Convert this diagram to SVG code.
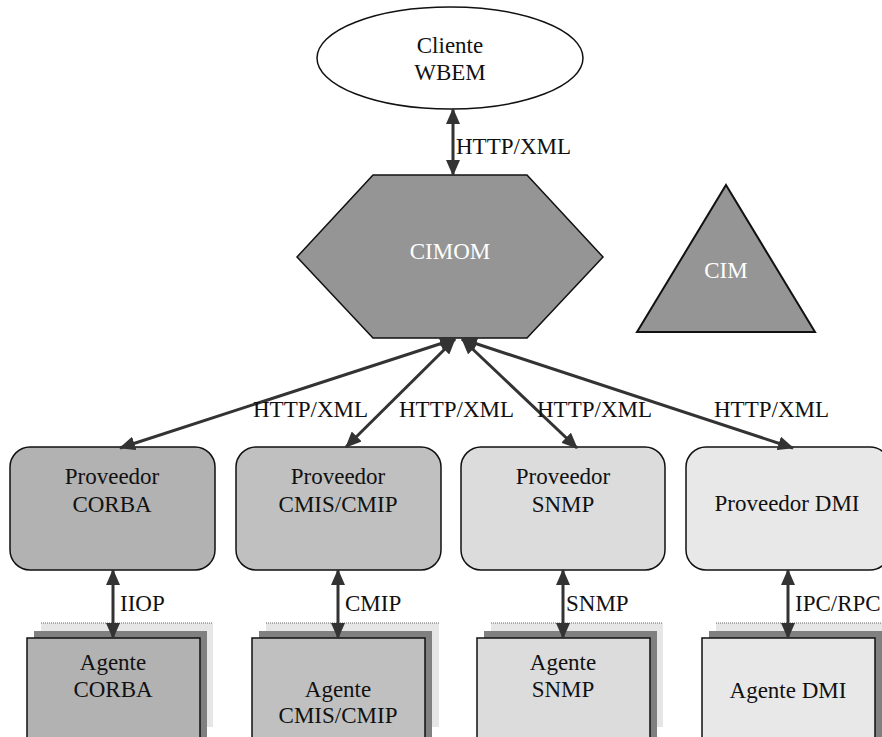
<svg xmlns="http://www.w3.org/2000/svg" width="882" height="737" viewBox="0 0 882 737">
  <style>
    text { font-size: 23px; fill: #111; }
    .mid { text-anchor: middle; }
    .light { fill: #ffffff; }
    .edge { stroke: #333; stroke-width: 3; fill: none; marker-start: url(#head); marker-end: url(#head); }
    .prov { stroke: #111; stroke-width: 1.5; }
    .front { stroke: #111; stroke-width: 1.5; }
    .shadow { fill: #808080; }
    .back { fill: #e6e6e6; }
    .dots { stroke: #666; stroke-width: 1; stroke-dasharray: 1 1; }
  </style>
  <defs>
    <marker id="head" markerUnits="userSpaceOnUse" markerWidth="16" markerHeight="14" refX="15" refY="7" orient="auto-start-reverse">
      <path d="M0,0 L16,7 L0,14 z" fill="#333"/>
    </marker>
  </defs>

  <rect width="882" height="737" fill="#ffffff"/>

  <g font-family="'Liberation Serif', 'DejaVu Serif', serif">
  <!-- client -->
  <g id="cliente">
    <ellipse cx="450" cy="58" rx="133" ry="51" fill="#ffffff" stroke="#111" stroke-width="1.5"/>
    <text class="mid" x="450" y="53">Cliente</text>
    <text class="mid" x="450" y="80">WBEM</text>
  </g>

  <!-- object manager -->
  <g id="cimom">
    <polygon points="373,175 527,175 603,257 527,338 373,338 297,257" fill="#959595" stroke="#111" stroke-width="1.5"/>
    <text class="mid light" x="450" y="259">CIMOM</text>
  </g>

  <!-- schema -->
  <g id="cim">
    <polygon points="726,185 815,332 637,332" fill="#959595" stroke="#111" stroke-width="2"/>
    <text class="mid light" x="726" y="278">CIM</text>
  </g>

  <!-- providers -->
  <g id="prov-corba">
    <rect class="prov" x="10" y="447" width="205" height="123" rx="20" fill="#b2b2b2"/>
    <text class="mid" x="112" y="484">Proveedor</text>
    <text class="mid" x="112" y="512">CORBA</text>
  </g>
  <g id="prov-cmis">
    <rect class="prov" x="236" y="447" width="205" height="123" rx="20" fill="#c0c0c0"/>
    <text class="mid" x="338" y="484">Proveedor</text>
    <text class="mid" x="338" y="512">CMIS/CMIP</text>
  </g>
  <g id="prov-snmp">
    <rect class="prov" x="461" y="447" width="204" height="123" rx="20" fill="#dcdcdc"/>
    <text class="mid" x="563" y="484">Proveedor</text>
    <text class="mid" x="563" y="512">SNMP</text>
  </g>
  <g id="prov-dmi">
    <rect class="prov" x="686" y="447" width="204" height="123" rx="20" fill="#e8e8e8"/>
    <text class="mid" x="787" y="511">Proveedor DMI</text>
  </g>

  <!-- agents (stacked sheets) -->
  <g id="agente-corba">
    <rect class="back" x="41" y="623" width="172" height="104"/>
    <line class="dots" x1="41" y1="623" x2="213" y2="623"/>
    <rect class="shadow" x="34" y="631" width="173" height="106"/>
    <rect class="front" x="27" y="638" width="173" height="120" fill="#b2b2b2"/>
    <text class="mid" x="113" y="670">Agente</text>
    <text class="mid" x="113" y="697">CORBA</text>
  </g>
  <g id="agente-cmis">
    <rect class="back" x="266" y="623" width="173" height="104"/>
    <line class="dots" x1="266" y1="623" x2="439" y2="623"/>
    <rect class="shadow" x="259" y="631" width="173" height="106"/>
    <rect class="front" x="252" y="638" width="173" height="120" fill="#c0c0c0"/>
    <text class="mid" x="338" y="697">Agente</text>
    <text class="mid" x="338" y="723">CMIS/CMIP</text>
  </g>
  <g id="agente-snmp">
    <rect class="back" x="491" y="623" width="172" height="104"/>
    <line class="dots" x1="491" y1="623" x2="663" y2="623"/>
    <rect class="shadow" x="484" y="631" width="173" height="106"/>
    <rect class="front" x="477" y="638" width="173" height="120" fill="#dcdcdc"/>
    <text class="mid" x="563" y="670">Agente</text>
    <text class="mid" x="563" y="697">SNMP</text>
  </g>
  <g id="agente-dmi">
    <rect class="back" x="716" y="623" width="172" height="104"/>
    <line class="dots" x1="716" y1="623" x2="888" y2="623"/>
    <rect class="shadow" x="709" y="631" width="173" height="106"/>
    <rect class="front" x="702" y="638" width="173" height="120" fill="#e8e8e8"/>
    <text class="mid" x="788" y="698">Agente DMI</text>
  </g>

  <!-- connectors -->
  <g id="connectors">
    <line class="edge" x1="453" y1="109" x2="453" y2="175"/>
    <line class="edge" x1="455" y1="339" x2="120" y2="448"/>
    <line class="edge" x1="455" y1="339" x2="346" y2="447"/>
    <line class="edge" x1="462" y1="339" x2="577" y2="448"/>
    <line class="edge" x1="462" y1="339" x2="793" y2="448"/>
    <line class="edge" x1="113" y1="570" x2="113" y2="638"/>
    <line class="edge" x1="338" y1="570" x2="338" y2="638"/>
    <line class="edge" x1="563" y1="570" x2="563" y2="638"/>
    <line class="edge" x1="788" y1="570" x2="788" y2="638"/>
  </g>

  <!-- connector labels -->
  <g id="labels">
    <text x="456" y="154">HTTP/XML</text>
    <text x="253" y="417">HTTP/XML</text>
    <text x="399" y="417">HTTP/XML</text>
    <text x="537" y="417">HTTP/XML</text>
    <text x="714" y="417">HTTP/XML</text>
    <text x="120" y="611">IIOP</text>
    <text x="345" y="611">CMIP</text>
    <text x="566" y="611">SNMP</text>
    <text x="795" y="611">IPC/RPC</text>
  </g>
  </g>
</svg>
